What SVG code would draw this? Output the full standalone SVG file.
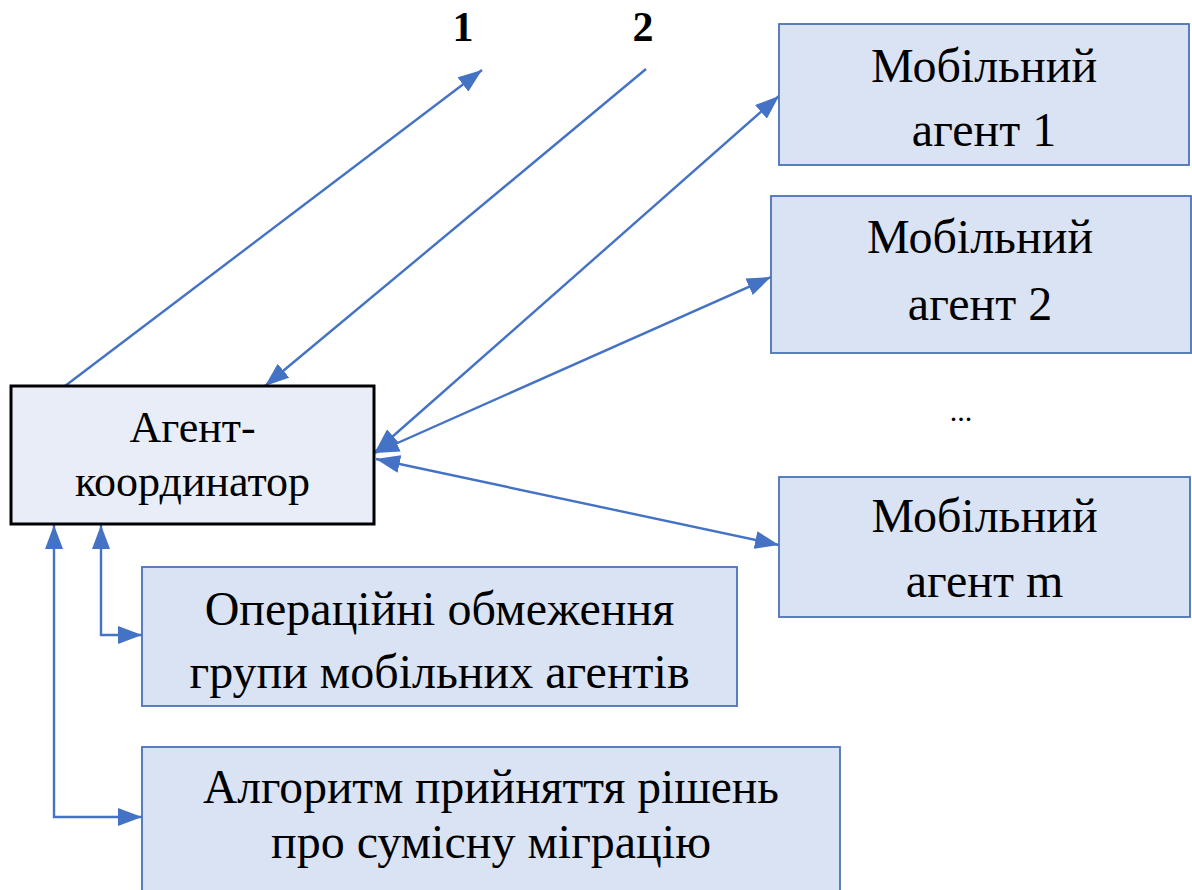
<svg xmlns="http://www.w3.org/2000/svg" width="1192" height="890" viewBox="0 0 1192 890">
<style>
  .box { fill: #dae3f3; stroke: #4a72b8; stroke-width: 1.8; }
  .coord { fill: #e8edf7; stroke: #000000; stroke-width: 3; }
  text { font-family: 'Liberation Serif', 'DejaVu Serif', serif; fill: #000; text-anchor: middle; }
  .t { font-size: 48px; }
  .tc { font-size: 44px; }
  .num { font-size: 42px; font-weight: bold; }
  .conn { fill: none; stroke: #4472c4; stroke-width: 2.4; }
</style>
<defs>
  <marker id="arr" markerUnits="userSpaceOnUse" markerWidth="24" markerHeight="18" refX="24" refY="9" orient="auto-start-reverse">
    <path d="M0,0 L24,9 L0,18 z" fill="#4472c4"/>
  </marker>
</defs>
<rect width="1192" height="890" fill="#ffffff"/>

<g id="connectors">
  <line class="conn" x1="65" y1="386" x2="482" y2="70" marker-end="url(#arr)"/>
  <line class="conn" x1="646" y1="69" x2="265" y2="386" marker-end="url(#arr)"/>
  <line class="conn" x1="375" y1="452" x2="779" y2="96" marker-start="url(#arr)" marker-end="url(#arr)"/>
  <line class="conn" x1="375" y1="453" x2="771" y2="277" marker-start="url(#arr)" marker-end="url(#arr)"/>
  <line class="conn" x1="376" y1="459" x2="779" y2="545" marker-start="url(#arr)" marker-end="url(#arr)"/>
  <path class="conn" d="M101,525 V635 H142" marker-start="url(#arr)" marker-end="url(#arr)"/>
  <path class="conn" d="M54,525 V817 H142" marker-start="url(#arr)" marker-end="url(#arr)"/>
</g>

<g id="label-1"><text class="num" x="463" y="41">1</text></g>
<g id="label-2"><text class="num" x="643" y="41">2</text></g>

<g id="coordinator">
  <rect class="coord" x="11" y="386" width="363" height="138"/>
  <text class="tc" x="192.5" y="442">Агент-</text>
  <text class="tc" x="192.5" y="496">координатор</text>
</g>

<g id="mobile-1">
  <rect class="box" x="779" y="24" width="410" height="141"/>
  <text class="t" x="984" y="82">Мобільний</text>
  <text class="t" x="984" y="146">агент 1</text>
</g>

<g id="mobile-2">
  <rect class="box" x="771" y="196" width="420" height="157"/>
  <text class="t" x="980" y="253">Мобільний</text>
  <text class="t" x="980" y="320">агент 2</text>
</g>

<g id="ellipsis"><text class="t" x="961" y="421" style="font-size:30px">...</text></g>

<g id="mobile-m">
  <rect class="box" x="779" y="477" width="411" height="140"/>
  <text class="t" x="984.5" y="532">Мобільний</text>
  <text class="t" x="984.5" y="597">агент m</text>
</g>

<g id="constraints">
  <rect class="box" x="142" y="567" width="595" height="139"/>
  <text class="t" x="439.5" y="625">Операційні обмеження</text>
  <text class="t" x="439.5" y="688">групи мобільних агентів</text>
</g>

<g id="algorithm">
  <rect class="box" x="142" y="747" width="698" height="160"/>
  <text class="t" x="491" y="803" textLength="576" lengthAdjust="spacingAndGlyphs">Алгоритм прийняття рішень</text>
  <text class="t" x="491" y="858">про сумісну міграцію</text>
</g>
</svg>
